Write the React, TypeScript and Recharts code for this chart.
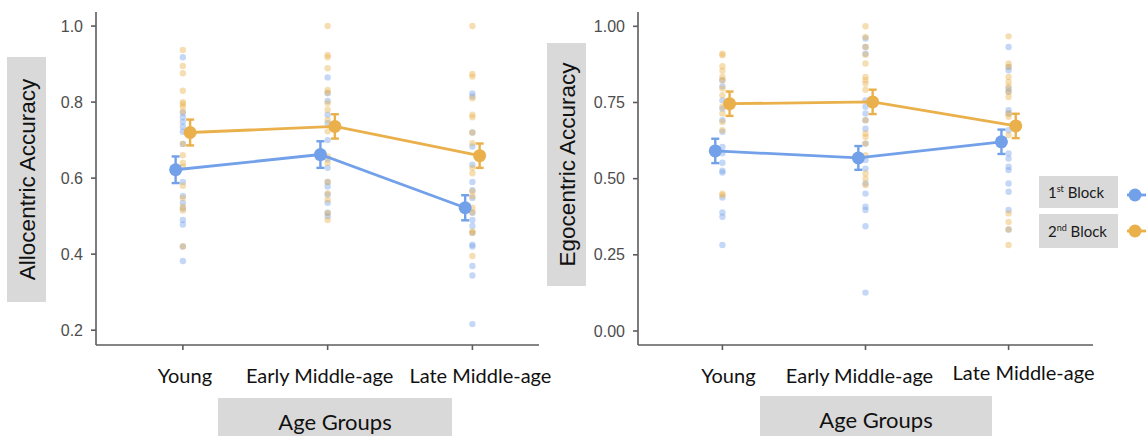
import { ComposedChart, Scatter, XAxis, YAxis, ErrorBar, Legend, Label } from 'recharts'

const GROUPS = ['Young', 'Early Middle-age', 'Late Middle-age']
const BLOCKS = [
  { n: '1', sup: 'st', color: '#72a0e9' },
  { n: '2', sup: 'nd', color: '#e9b04b' },
]

const ALLO_TICKS = [0.2, 0.4, 0.6, 0.8, 1.0]
const EGO_TICKS = [0, 0.25, 0.5, 0.75, 1]

// group means and standard errors, block 1 / block 2
const ALLO_MEAN_1 = [0.622, 0.662, 0.522]
const ALLO_MEAN_2 = [0.72, 0.736, 0.659]
const ALLO_SE_1 = [0.035, 0.035, 0.033]
const ALLO_SE_2 = [0.034, 0.032, 0.032]
const EGO_MEAN_1 = [0.591, 0.568, 0.621]
const EGO_MEAN_2 = [0.746, 0.752, 0.673]
const EGO_SE_1 = [0.04, 0.039, 0.04]
const EGO_SE_2 = [0.04, 0.04, 0.04]

// individual participants, one list per age group
const ALLO_RAW_1 = [
  [0.918, 0.772, 0.76, 0.748, 0.735, 0.722, 0.69, 0.59, 0.553, 0.535, 0.52, 0.49, 0.478, 0.42, 0.382],
  [0.865, 0.823, 0.803, 0.767, 0.745, 0.7, 0.65, 0.627, 0.59, 0.578, 0.557, 0.535, 0.509, 0.5],
  [0.823, 0.815, 0.72, 0.683, 0.635, 0.59, 0.568, 0.548, 0.509, 0.49, 0.474, 0.456, 0.425, 0.42, 0.369, 0.344, 0.216],
]
const ALLO_RAW_2 = [
  [0.937, 0.895, 0.876, 0.83, 0.8, 0.795, 0.788, 0.775, 0.69, 0.66, 0.64, 0.63, 0.58, 0.548, 0.525, 0.515, 0.42],
  [1.0, 0.924, 0.918, 0.889, 0.832, 0.825, 0.797, 0.78, 0.753, 0.723, 0.657, 0.64, 0.59, 0.56, 0.543, 0.508, 0.49],
  [1.0, 0.874, 0.867, 0.81, 0.767, 0.76, 0.72, 0.692, 0.627, 0.613, 0.565, 0.552, 0.522, 0.51, 0.46, 0.456, 0.395],
]
const EGO_RAW_1 = [
  [0.823, 0.803, 0.757, 0.73, 0.692, 0.654, 0.604, 0.583, 0.552, 0.526, 0.52, 0.438, 0.389, 0.375, 0.282],
  [0.96, 0.932, 0.91, 0.757, 0.736, 0.714, 0.692, 0.664, 0.615, 0.561, 0.533, 0.484, 0.451, 0.408, 0.397, 0.344, 0.126],
  [0.932, 0.867, 0.856, 0.796, 0.785, 0.725, 0.714, 0.659, 0.583, 0.566, 0.539, 0.528, 0.484, 0.457, 0.397, 0.333],
]
const EGO_RAW_2 = [
  [0.91, 0.905, 0.869, 0.854, 0.834, 0.823, 0.796, 0.774, 0.736, 0.714, 0.686, 0.659, 0.451, 0.446],
  [1.0, 0.965, 0.932, 0.907, 0.878, 0.834, 0.823, 0.812, 0.792, 0.692, 0.648, 0.637, 0.615, 0.577, 0.517, 0.5, 0.479],
  [0.967, 0.878, 0.867, 0.834, 0.817, 0.803, 0.785, 0.768, 0.714, 0.703, 0.643, 0.386, 0.358, 0.333, 0.282],
]

const AXIS = '#5c5c5c'
const TICK_TEXT = '#4d4d4d'
const BOX = '#d9d9d9'
const DODGE = 0.05

const toRaw = (lists: number[][]) => lists.flatMap((vals, i) => vals.map(y => ({ x: i + 1, y })))
const toMean = (means: number[], se: number[], dx: number) =>
  means.map((y, i) => ({ x: i + 1 + dx, y, se: se[i] }))

type PanelProps = {
  width: number
  margin: { top: number; right: number; left: number; bottom: number }
  xDomain: [number, number]
  yDomain: [number, number]
  yTicks: number[]
  digits: number
  raw1: number[][]
  raw2: number[][]
  mean1: number[]
  mean2: number[]
  se1: number[]
  se2: number[]
  labelShift: [number, number][]
  yTitle: { text: string; x: number; y: number; w: number; h: number }
  xTitle: { x: number; y: number; w: number; h: number }
  legend?: boolean
}

function BlockLegend() {
  return (
    <div style={{ position: 'relative', width: 107, height: 72 }}>
      {BLOCKS.map((b, i) => (
        <div key={b.n} style={{ position: 'absolute', left: 0, top: i === 0 ? 0 : 38 }}>
          <div style={{
            width: 79, height: i === 0 ? 32 : 34, background: BOX, fontFamily: 'Lato',
            fontSize: 15, color: '#1a1a1a', lineHeight: i === 0 ? '32px' : '34px', paddingLeft: 9, boxSizing: 'border-box',
          }}>
            {b.n}<sup style={{ fontSize: 9, verticalAlign: 6, lineHeight: 0 }}>{b.sup}</sup> Block
          </div>
          <svg width={28} height={20} style={{ position: 'absolute', left: 86, top: i === 0 ? 9 : 7 }}>
            <line x1={2} y1={10} x2={28} y2={10} stroke={b.color} strokeWidth={2.8} />
            <circle cx={10} cy={10} r={6.5} fill={b.color} />
          </svg>
        </div>
      ))}
    </div>
  )
}

function Panel(p: PanelProps) {
  const [c1, c2] = [BLOCKS[0].color, BLOCKS[1].color]
  const dot = (color: string) => (s: any) => (
    <circle cx={s.cx} cy={s.cy} r={3.2} fill={color} fillOpacity={0.42} />
  )
  const big = (color: string) => (s: any) => <circle cx={s.cx} cy={s.cy} r={6.5} fill={color} />
  const groupTick = (t: any) => {
    const i = Math.round(t.payload.value) - 1
    const [dx, dy] = p.labelShift[i] ?? [0, 0]
    return (
      <text x={t.x + dx} y={t.y + dy} dy="0.71em" textAnchor="middle" fontFamily="Lato" fontSize={20} fill="#111">
        {GROUPS[i]}
      </text>
    )
  }
  return (
    <ComposedChart width={p.width} height={436} margin={p.margin}>
      <XAxis
        type="number" dataKey="x" domain={p.xDomain} ticks={[1, 2, 3]} allowDataOverflow
        height={40} tickSize={5} tickMargin={19}
        axisLine={{ stroke: AXIS, strokeWidth: 1.6 }} tickLine={{ stroke: AXIS, strokeWidth: 1.6 }}
        tick={groupTick}
      >
        <Label content={() => (
          <g>
            <rect x={p.xTitle.x} y={p.xTitle.y} width={p.xTitle.w} height={p.xTitle.h} fill={BOX} />
            <text x={p.xTitle.x + p.xTitle.w / 2} y={p.xTitle.y + 32} textAnchor="middle"
              fontFamily="Lato" fontSize={22} fill="#111">Age Groups</text>
          </g>
        )} />
      </XAxis>
      <YAxis
        type="number" dataKey="y" domain={p.yDomain} ticks={p.yTicks} allowDataOverflow
        tickFormatter={v => Number(v).toFixed(p.digits)}
        width={40} tickSize={5} tickMargin={8}
        axisLine={{ stroke: AXIS, strokeWidth: 1.6 }} tickLine={{ stroke: AXIS, strokeWidth: 1.6 }}
        tick={{ fontSize: 16, fill: TICK_TEXT, fontFamily: 'Liberation Sans' }}
      >
        <Label content={() => (
          <g>
            <rect x={p.yTitle.x} y={p.yTitle.y} width={p.yTitle.w} height={p.yTitle.h} fill={BOX} />
            <text
              x={p.yTitle.x + p.yTitle.w / 2 + 8} y={p.yTitle.y + p.yTitle.h / 2}
              transform={`rotate(-90 ${p.yTitle.x + p.yTitle.w / 2 + 8} ${p.yTitle.y + p.yTitle.h / 2})`}
              textAnchor="middle" fontFamily="Liberation Sans" fontSize={22.5} fill="#111"
            >{p.yTitle.text}</text>
          </g>
        )} />
      </YAxis>
      <Scatter data={toRaw(p.raw1)} shape={dot(c1)} isAnimationActive={false} />
      <Scatter data={toRaw(p.raw2)} shape={dot(c2)} isAnimationActive={false} />
      <Scatter data={toMean(p.mean1, p.se1, -DODGE)} shape={big(c1)} line={{ stroke: c1, strokeWidth: 2.8 }} isAnimationActive={false}>
        <ErrorBar dataKey="se" direction="y" width={4} stroke={c1} strokeWidth={2.4} isAnimationActive={false} />
      </Scatter>
      <Scatter data={toMean(p.mean2, p.se2, DODGE)} shape={big(c2)} line={{ stroke: c2, strokeWidth: 2.8 }} isAnimationActive={false}>
        <ErrorBar dataKey="se" direction="y" width={4} stroke={c2} strokeWidth={2.4} isAnimationActive={false} />
      </Scatter>
      {p.legend && (
        <Legend
          layout="vertical" align="center" verticalAlign="middle"
          wrapperStyle={{ left: 499, top: 176, width: 107 }}
          content={() => <BlockLegend />}
        />
      )}
    </ComposedChart>
  )
}

export default function App() {
  return (
    <div style={{ position: 'absolute', left: 0, top: 0, width: 1146, height: 436, background: '#fff', overflow: 'hidden' }}>
      <div style={{ position: 'absolute', left: 0, top: 0 }}>
        <Panel
          width={560}
          margin={{ top: 12, right: 21, left: 56, bottom: 51 }}
          xDomain={[0.4, 3.46]}
          yDomain={[0.161, 1.037]}
          yTicks={ALLO_TICKS}
          digits={1}
          raw1={ALLO_RAW_1} raw2={ALLO_RAW_2}
          mean1={ALLO_MEAN_1} mean2={ALLO_MEAN_2}
          se1={ALLO_SE_1} se2={ALLO_SE_2}
          labelShift={[[2, 0], [-8, 0], [8, 0]]}
          yTitle={{ text: 'Allocentric Accuracy', x: 7, y: 57, w: 39, h: 245 }}
          xTitle={{ x: 218, y: 398, w: 234, h: 40 }}
        />
      </div>
      <div style={{ position: 'absolute', left: 540, top: 0 }}>
        <Panel
          width={606}
          margin={{ top: 12, right: 53, left: 58, bottom: 51 }}
          xDomain={[0.41, 3.59]}
          yDomain={[-0.046, 1.047]}
          yTicks={EGO_TICKS}
          digits={2}
          raw1={EGO_RAW_1} raw2={EGO_RAW_2}
          mean1={EGO_MEAN_1} mean2={EGO_MEAN_2}
          se1={EGO_SE_1} se2={EGO_SE_2}
          labelShift={[[6, 0], [-6, 0], [15, -3]]}
          yTitle={{ text: 'Egocentric Accuracy', x: 7, y: 43, w: 39, h: 243 }}
          xTitle={{ x: 220, y: 396, w: 232, h: 42 }}
          legend
        />
      </div>
    </div>
  )
}
